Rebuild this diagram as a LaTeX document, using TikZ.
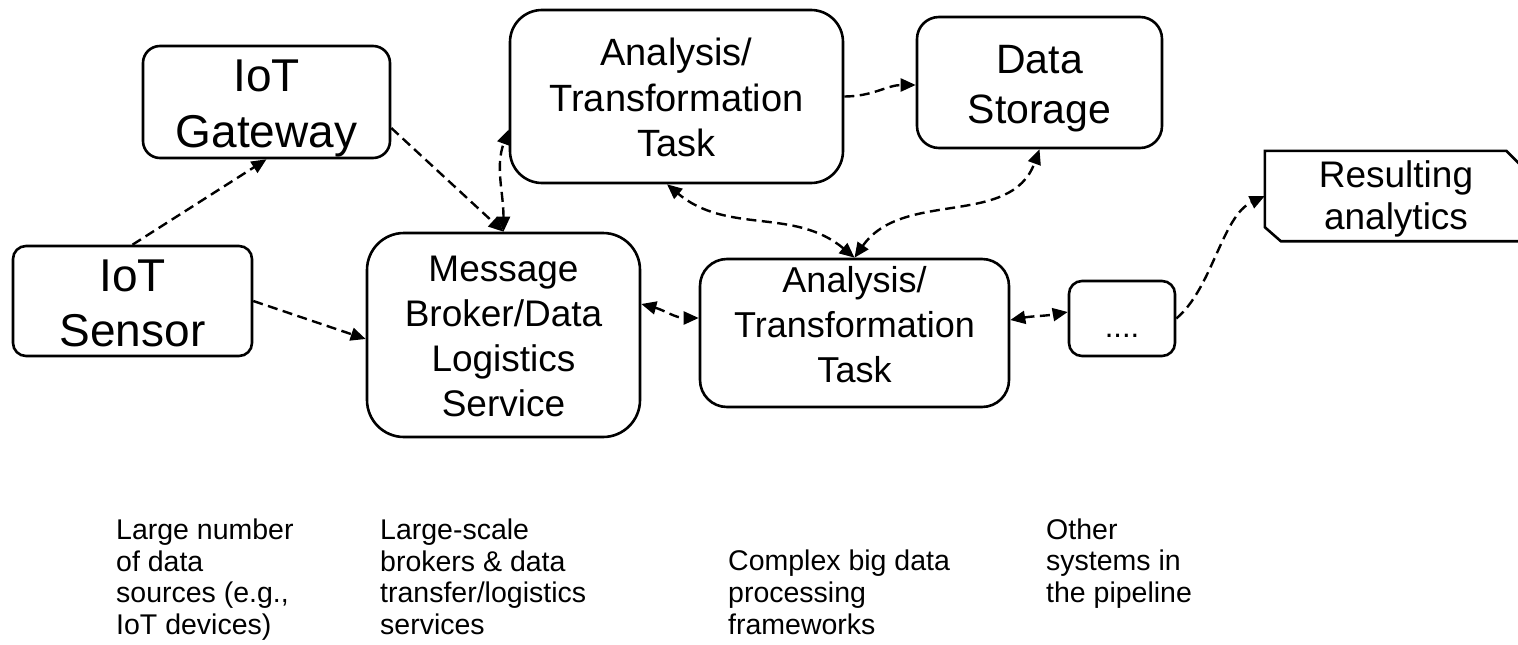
\documentclass[tikz,border=0pt]{standalone}
\usepackage{fontspec}
\setmainfont{Liberation Sans}
\usetikzlibrary{arrows.meta}
% line strut: height and depth follow the current \baselineskip
\newcommand\lsdp{0.18}
\newcommand\Ls{\rule[-\lsdp\baselineskip]{0pt}{\baselineskip}}
\tikzset{
  box/.style={draw, line width=2.6pt, rectangle, inner sep=0pt, align=center},
  flow/.style={line width=2.4pt, dash pattern=on 10pt off 5.5pt,
    >={Triangle[length=15pt,width=13pt]}},
  note/.style={anchor=north west, inner sep=0pt, align=left,
    font=\fontsize{28.5}{31}\selectfont}
}
\begin{document}
\begin{tikzpicture}[x=1pt,y=1pt]
\useasboundingbox (0,0) rectangle (1518,-645);
\clip (0,0) rectangle (1518,-645);

% components
\node[box, rounded corners=17pt, minimum width=247pt, minimum height=106pt,
  font=\fontsize{46}{56}\selectfont] (gw) at (266.5,-102) {\Ls IoT\\\Ls Gateway};
\node[box, rounded corners=13pt, minimum width=239pt, minimum height=94pt,
  font=\fontsize{46}{55}\selectfont] (sen) at (132.5,-301) {\Ls IoT\\\Ls Sensor};
\node[box, rounded corners=37pt, minimum width=273pt, minimum height=204pt,
  font=\fontsize{37}{45}\selectfont] (brk) at (503.5,-335)
  {\Ls Message\\\Ls Broker/Data\\\Ls Logistics\\\Ls Service};
\node[box, rounded corners=32pt, minimum width=333pt, minimum height=173pt,
  font=\fontsize{38}{45.5}\selectfont] (at1) at (676.5,-96.5)
  {\Ls Analysis/\\\Ls Transformation\\\Ls Task};
\node[box, rounded corners=22pt, minimum width=245pt, minimum height=131pt,
  font=\fontsize{41}{50}\selectfont] (ds) at (1039.5,-82.5) {\Ls Data\\\Ls Storage};
\node[box, rounded corners=27pt, minimum width=309pt, minimum height=148pt,
  font={\fontsize{36}{45}\selectfont\renewcommand\lsdp{0.39}}] (at2) at (854.5,-333)
  {\Ls Analysis/\\\Ls Transformation\\\Ls Task};
\node[box, rounded corners=13pt, minimum width=106pt, minimum height=75pt,
  font={\fontsize{31}{35}\selectfont\renewcommand\lsdp{-0.11}}] (dots) at (1122,-318.5)
  {\Ls ....};
\node[inner sep=0pt, minimum width=262pt, minimum height=90pt, align=center,
  font=\fontsize{37}{40}\selectfont] (res) at (1396,-196)
  {\Ls Resulting\\\Ls analytics};
\draw[line width=2.6pt] (res.north west) -- ([xshift=-21pt]res.north east)
  -- ([yshift=-21pt]res.north east) -- (res.south east)
  -- ([xshift=16pt]res.south west) -- ([yshift=14pt]res.south west) -- cycle;

% data flows
\draw[flow,->] (sen.north) -- (gw.south);
\draw[flow,->] (sen.east) -- ([yshift=-4pt]brk.west);
\draw[flow,->] ([yshift=-26pt]gw.east) -- (brk.north);
\draw[flow,<->] (brk.north) to[out=90,in=-110] ([yshift=-33pt]at1.west);
\draw[flow,->] (at1.east) to[out=0,in=180] ([yshift=-2.5pt]ds.west);
\draw[flow,<->] (at2.north) to[out=140,in=-40] ([xshift=-9.5pt]at1.south);
\draw[flow,<->] (at2.north) to[out=55,in=-110] (ds.south);
\draw[flow,<->] ([yshift=31pt]brk.east) to[out=-15,in=180] ([yshift=15pt]at2.west);
\draw[flow,<->] ([yshift=13pt]at2.east) to[out=10,in=190] ([yshift=6.5pt]dots.west);
\draw[flow,->] (dots.east) to[out=40,in=205,looseness=0.8] (res.west);

% captions
\node[note] (n1) at (116,-513.6)
  {\Ls Large number\\\Ls of data\\\Ls sources (e.g.,\\\Ls IoT devices)};
\node[note] (n2) at (380,-513.6)
  {\Ls Large-scale\\\Ls brokers \& data\\\Ls transfer/logistics\\\Ls services};
\node[note] (n3) at (728,-544.6)
  {\Ls Complex big data\\\Ls processing\\\Ls frameworks};
\node[note] (n4) at (1046,-513.6)
  {\Ls Other\\\Ls systems in\\\Ls the pipeline};
\end{tikzpicture}
\end{document}
